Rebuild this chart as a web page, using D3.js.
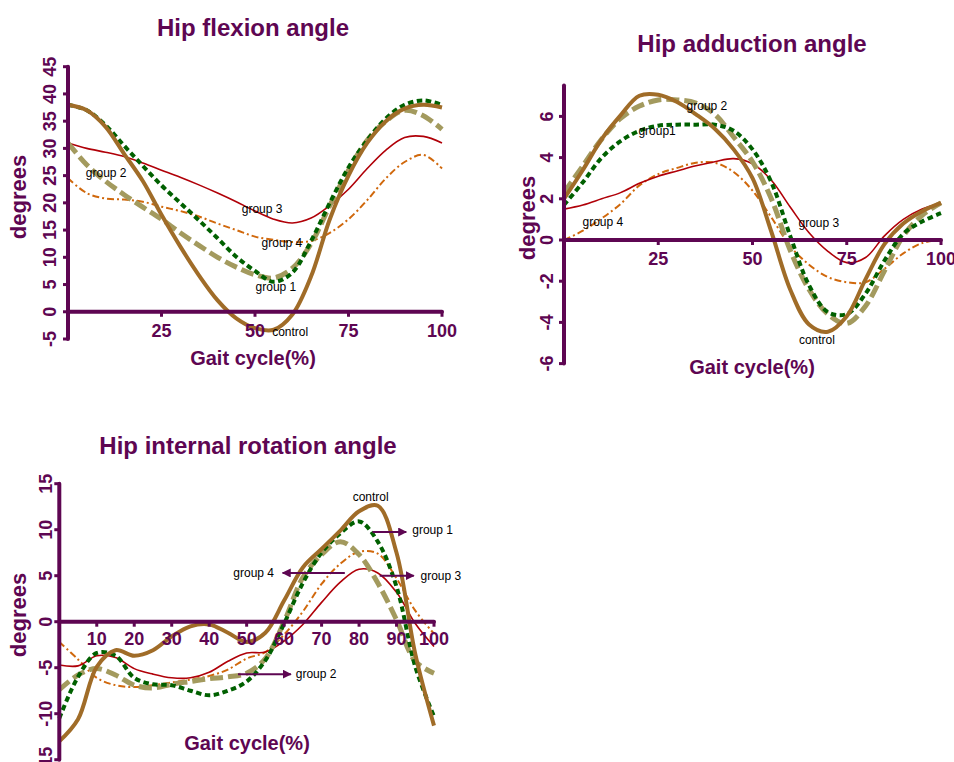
<!DOCTYPE html>
<html><head><meta charset="utf-8">
<script src="https://cdn.jsdelivr.net/npm/d3@7"></script>
<style>body{margin:0;background:#fff} svg{display:block}</style>
</head><body>
<svg id="c" width="954" height="762"></svg>
<script>
// ---------- DATA ----------
const gaitPct = [0,5,10,15,20,25,30,35,40,45,50,55,60,65,70,75,80,85,90,95,100];
const seriesKeys = ["group4","group3","group2","group1","control"];

// Hip flexion angle (degrees)
const flexControl = [38, 37, 34, 29, 24, 17.8, 12, 6.7, 2.1, -1.2, -3, -3.3, -0.5, 6.5, 17, 25, 31, 35, 37.3, 38, 37.5];
const flexGroup1  = [38, 37, 34.3, 30.5, 26.8, 23.2, 20, 16.8, 13.5, 10.1, 7.5, 5.5, 7.2, 13, 20, 26.5, 31.5, 35.5, 38, 38.8, 38];
const flexGroup2  = [31, 27, 24, 21.5, 19.2, 17, 14.5, 12.2, 10, 8.2, 6.8, 6.2, 8, 12.5, 19.5, 26, 31.5, 35, 37, 36, 33.5];
const flexGroup3  = [31, 30, 29.3, 28.5, 27.3, 26, 24.7, 23.3, 21.8, 20.2, 18.5, 17, 16.3, 17.2, 19.5, 22.5, 26.3, 29.7, 32, 32.2, 31];
const flexGroup4  = [24.5, 21.8, 20.8, 20.6, 20.2, 19.3, 18.5, 17.5, 16.2, 15, 13.8, 13.2, 12.8, 13, 14.5, 17, 20.5, 24.5, 27.5, 28.8, 26.3];
const flexXTicks = [25, 50, 75, 100];
const flexYTicks = [-5, 0, 5, 10, 15, 20, 25, 30, 35, 40, 45];

// Hip adduction angle (degrees)
const addControl = [2.0, 3.4, 4.9, 6.05, 7.0, 7.05, 6.7, 6.1, 5.4, 4.4, 3.0, 0.4, -2.4, -4.1, -4.45, -3.7, -1.9, -0.2, 0.8, 1.4, 1.8];
const addGroup1  = [1.7, 2.8, 4.0, 4.8, 5.3, 5.55, 5.6, 5.6, 5.6, 5.3, 4.4, 2.8, 0.2, -2.2, -3.5, -3.6, -2.6, -1.0, 0.3, 0.9, 1.3];
const addGroup2  = [2.3, 3.6, 4.9, 5.9, 6.5, 6.8, 6.8, 6.65, 6.1, 5.0, 3.8, 2.0, -0.5, -2.4, -3.6, -4.05, -3.2, -1.5, 0.2, 1.2, 1.8];
const addGroup3  = [1.5, 1.7, 2.0, 2.3, 2.75, 3.1, 3.35, 3.6, 3.8, 3.95, 3.7, 2.9, 1.6, 0.35, -0.55, -1.1, -0.85, 0.2, 1.0, 1.5, 1.8];
const addGroup4  = [0, 0.45, 1.05, 1.75, 2.65, 3.2, 3.5, 3.75, 3.75, 3.3, 2.4, 1.1, -0.3, -1.2, -1.8, -2.05, -2.05, -1.4, -0.65, -0.15, 0];
const addXTicks = [25, 50, 75, 100];
const addYTicks = [-6, -4, -2, 0, 2, 4, 6];

// Hip internal rotation angle (degrees)
const rotControl = [-13, -10.6, -4.9, -3.1, -3.7, -3.1, -1.6, -0.5, -0.3, -1.2, -2.2, -1.2, 2.3, 5.9, 7.9, 9.9, 12, 12.6, 7.5, -3.5, -11.3];
const rotGroup1  = [-10.5, -6, -3.4, -3.7, -6.1, -6.8, -6.9, -7.5, -8.0, -7.5, -6.5, -4.2, -0.2, 4.2, 7.5, 9.6, 10.9, 8.7, 3.8, -4.9, -10.3];
const rotGroup2  = [-7.4, -5.8, -5.1, -5.8, -6.9, -7.2, -6.8, -6.5, -6.2, -6, -5.6, -4, 0, 4.8, 7.3, 8.7, 7.3, 4.2, 0.2, -4.3, -5.6];
const rotGroup3  = [-4.7, -4.8, -3.7, -3.9, -5.1, -5.7, -6.1, -6.1, -5.5, -4.3, -3.4, -3.3, -2.1, -0.3, 2.1, 4.3, 5.7, 5.3, 3.2, -0.2, -2.7];
const rotGroup4  = [-2.2, -4.1, -6.1, -6.9, -7.1, -6.9, -6.6, -6.3, -5.9, -5.2, -4.0, -3.3, -1.4, 1.1, 4.1, 6.3, 7.6, 7.4, 4.7, 1.2, -1.3];
const rotXTicks = [10, 20, 30, 40, 50, 60, 70, 80, 90, 100];
const rotYTicks = [-15, -10, -5, 0, 5, 10, 15];

// ---------- STYLE ----------
const PURPLE = "#5e0652";
const styles = {
  control: {stroke: "#a06c28", width: 4, dash: null},
  group1:  {stroke: "#006000", width: 4, dash: "5.5,3.5"},
  group2:  {stroke: "#a39a5e", width: 5, dash: "13,5"},
  group3:  {stroke: "#b00008", width: 1.6, dash: null},
  group4:  {stroke: "#d0680c", width: 2, dash: "7,3,2,3"}
};

const charts = [
  {
    title: "Hip flexion angle", titlePos: [253, 27],
    xRange: [68, 442], yDomain: [-5, 45], yRange: [339, 66.7],
    xTicks: flexXTicks, yTicks: flexYTicks, xLabOff: 19, yLabOff: 18,
    xTitlePos: [253, 358], yTitlePos: [18, 197],
    series: {control: flexControl, group1: flexGroup1, group2: flexGroup2, group3: flexGroup3, group4: flexGroup4},
    notes: [
      {t: "group 2", u: 10.2, v: 25.5},
      {t: "group 3", u: 51.9, v: 18.9},
      {t: "group 4", u: 57.2, v: 12.6},
      {t: "group 1", u: 55.6, v: 4.5},
      {t: "control", u: 59.4, v: -3.7}
    ]
  },
  {
    title: "Hip adduction angle", titlePos: [752, 43],
    xRange: [564, 941], yDomain: [-6, 7.5], yRange: [363.6, 85.5],
    xTicks: addXTicks, yTicks: addYTicks, xLabOff: 19, yLabOff: 17,
    xTitlePos: [752, 367], yTitlePos: [527, 218],
    series: {control: addControl, group1: addGroup1, group2: addGroup2, group3: addGroup3, group4: addGroup4},
    notes: [
      {t: "group 2", u: 37.9, v: 6.5},
      {t: "group1", u: 24.7, v: 5.3},
      {t: "group 4", u: 10.3, v: 0.87},
      {t: "group 3", u: 67.6, v: 0.83},
      {t: "control", u: 67.1, v: -4.85}
    ]
  },
  {
    title: "Hip internal rotation angle", titlePos: [248, 445],
    xRange: [59.3, 434], yDomain: [-15, 15], yRange: [759.7, 483.7],
    xTicks: rotXTicks, yTicks: rotYTicks, xLabOff: 17, yLabOff: 13,
    xTitlePos: [247, 743], yTitlePos: [18, 615],
    series: {control: rotControl, group1: rotGroup1, group2: rotGroup2, group3: rotGroup3, group4: rotGroup4},
    notes: [
      {t: "control", u: 83.1, v: 13.55},
      {t: "group 1", u: 94.2, v: 10.0, anchor: "start", arrow: [83.6, 92.6, 9.75]},
      {t: "group 4", u: 57.3, v: 5.3, anchor: "end", arrow: [76.2, 59.6, 5.3]},
      {t: "group 3", u: 96.4, v: 5.0, anchor: "start", arrow: [85.5, 94.6, 5.0]},
      {t: "group 2", u: 63.1, v: -5.7, anchor: "start", arrow: [47.7, 61.8, -5.7]}
    ]
  }
];

const svg = d3.select("#c");
const defs = svg.append("defs");
defs.append("marker").attr("id", "ah").attr("viewBox", "0 0 10 10")
  .attr("refX", 9).attr("refY", 5).attr("markerWidth", 4.5).attr("markerHeight", 4.5)
  .attr("markerUnits", "strokeWidth").attr("orient", "auto")
  .append("path").attr("d", "M0,0L10,5L0,10Z").attr("fill", PURPLE);

const FONT = "'Liberation Sans', Arial, sans-serif";

charts.forEach(c => {
  const x = d3.scaleLinear().domain([0, 100]).range(c.xRange);
  const y = d3.scaleLinear().domain(c.yDomain).range(c.yRange);
  const g = svg.append("g");

  // series lines
  const line = d3.line().x((d, i) => x(gaitPct[i])).y(d => y(d)).curve(d3.curveCatmullRom.alpha(0.5));
  seriesKeys.forEach(k => {
    const s = styles[k];
    g.append("path").datum(c.series[k]).attr("d", line)
      .attr("fill", "none").attr("stroke", s.stroke).attr("stroke-width", s.width)
      .attr("stroke-dasharray", s.dash).attr("stroke-linejoin", "round");
  });

  // axes
  const x0 = x(0), y0 = y(0);
  g.append("line").attr("x1", x0).attr("x2", x0).attr("y1", y(c.yDomain[0])).attr("y2", y(c.yDomain[1]))
    .attr("stroke", PURPLE).attr("stroke-width", 4).attr("stroke-linecap", "round");
  g.append("line").attr("x1", x0).attr("x2", x(100)).attr("y1", y0).attr("y2", y0)
    .attr("stroke", PURPLE).attr("stroke-width", 4).attr("stroke-linecap", "round");

  c.yTicks.forEach(t => {
    g.append("line").attr("x1", x0 - 5).attr("x2", x0).attr("y1", y(t)).attr("y2", y(t))
      .attr("stroke", PURPLE).attr("stroke-width", 3);
    g.append("text").attr("transform", `translate(${x0 - c.yLabOff},${y(t)}) rotate(-90)`)
      .attr("text-anchor", "middle").attr("dominant-baseline", "central")
      .attr("font-family", FONT).attr("font-weight", "bold").attr("font-size", 18)
      .attr("fill", PURPLE).text(t);
  });
  c.xTicks.forEach(t => {
    g.append("line").attr("x1", x(t)).attr("x2", x(t)).attr("y1", y0).attr("y2", y0 + 5)
      .attr("stroke", PURPLE).attr("stroke-width", 3);
    g.append("text").attr("x", x(t)).attr("y", y0 + c.xLabOff)
      .attr("text-anchor", "middle").attr("dominant-baseline", "central")
      .attr("font-family", FONT).attr("font-weight", "bold").attr("font-size", 18)
      .attr("fill", PURPLE).text(t);
  });

  // titles
  g.append("text").attr("x", c.titlePos[0]).attr("y", c.titlePos[1])
    .attr("text-anchor", "middle").attr("dominant-baseline", "central")
    .attr("font-family", FONT).attr("font-weight", "bold").attr("font-size", 24)
    .attr("fill", PURPLE).text(c.title);
  g.append("text").attr("x", c.xTitlePos[0]).attr("y", c.xTitlePos[1])
    .attr("text-anchor", "middle").attr("dominant-baseline", "central")
    .attr("font-family", FONT).attr("font-weight", "bold").attr("font-size", 20)
    .attr("fill", PURPLE).text("Gait cycle(%)");
  g.append("text").attr("transform", `translate(${c.yTitlePos[0]},${c.yTitlePos[1]}) rotate(-90)`)
    .attr("text-anchor", "middle").attr("dominant-baseline", "central")
    .attr("font-family", FONT).attr("font-weight", "bold").attr("font-size", 22)
    .attr("fill", PURPLE).text("degrees");

  // annotations
  c.notes.forEach(n => {
    if (n.arrow) {
      g.append("line").attr("x1", x(n.arrow[0])).attr("x2", x(n.arrow[1]))
        .attr("y1", y(n.arrow[2])).attr("y2", y(n.arrow[2]))
        .attr("stroke", PURPLE).attr("stroke-width", 2).attr("marker-end", "url(#ah)");
    }
    g.append("text").attr("x", x(n.u)).attr("y", y(n.v))
      .attr("text-anchor", n.anchor || "middle").attr("dominant-baseline", "central")
      .attr("font-family", FONT).attr("font-size", 12).attr("fill", "#000").text(n.t);
  });
});
</script>
</body></html>
